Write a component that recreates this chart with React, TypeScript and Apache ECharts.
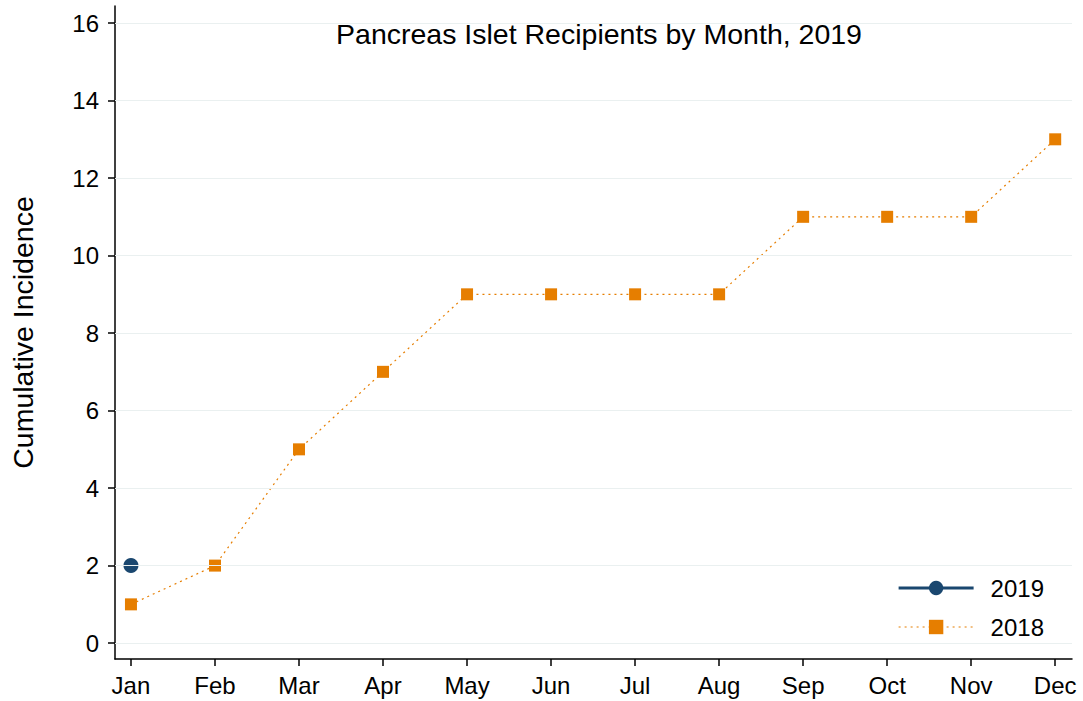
import React, { useEffect, useRef } from "react";
import * as echarts from "echarts";

const months = ["Jan", "Feb", "Mar", "Apr", "May", "Jun", "Jul", "Aug", "Sep", "Oct", "Nov", "Dec"];
const values2018 = [1, 2, 5, 7, 9, 9, 9, 9, 11, 11, 11, 13];
const values2019 = [2];
const yTicks = [0, 2, 4, 6, 8, 10, 12, 14, 16];
const xTicks = [0, 1, 2, 3, 4, 5, 6, 7, 8, 9, 10, 11];

const NAVY = "#1a476f";
const ORANGE = "#e67e00";
const FONT = "Liberation Sans, Arial, sans-serif";

export default function App() {
  const ref = useRef<HTMLDivElement>(null);
  useEffect(() => {
    const chart = echarts.init(ref.current!, null, { renderer: "svg" });
    chart.setOption({
      animation: false,
      backgroundColor: "#ffffff",
      title: {
        text: "Pancreas Islet Recipients by Month, 2019",
        left: 594,
        textAlign: "center",
        top: 14,
        textStyle: { fontFamily: FONT, fontSize: 28.5, fontWeight: "normal", color: "#000" },
      },
      grid: { left: 114, right: 11, top: 6, bottom: 42 },
      xAxis: {
        type: "value",
        min: -0.19,
        max: 11.2,
        axisLine: { show: true, onZero: false, lineStyle: { color: "#000", width: 1.5 } },
        axisTick: { show: true, length: 7, customValues: xTicks, lineStyle: { color: "#000", width: 1.5 } },
        axisLabel: {
          customValues: xTicks,
          formatter: (v: number) => months[Math.round(v)],
          fontFamily: FONT,
          fontSize: 24,
          color: "#000",
          margin: 14,
        },
        splitLine: { show: false },
      },
      yAxis: {
        type: "value",
        min: -0.41,
        max: 16.44,
        name: "Cumulative Incidence",
        nameLocation: "middle",
        nameGap: 78,
        nameTextStyle: { fontFamily: FONT, fontSize: 28.5, color: "#000" },
        axisLine: { show: true, onZero: false, lineStyle: { color: "#000", width: 1.5 } },
        axisTick: { show: true, length: 7, customValues: yTicks, lineStyle: { color: "#000", width: 1.5 } },
        axisLabel: {
          customValues: yTicks,
          fontFamily: FONT,
          fontSize: 24,
          color: "#000",
          margin: 16,
        },
        splitLine: { show: false },
      },
      legend: {
        right: 21,
        bottom: 54,
        orient: "vertical",
        itemWidth: 75,
        itemHeight: 18,
        itemGap: 15,
        backgroundColor: "#ffffff",
        padding: [8, 18, 8, 11],
        textStyle: { fontFamily: FONT, fontSize: 24, lineHeight: 24, color: "#000", padding: [0, 0, 0, 12] },
        data: [
          { name: "2019", lineStyle: { width: 3, color: NAVY }, itemStyle: { color: NAVY } },
          { name: "2018", lineStyle: { width: 1.2, color: ORANGE, type: [2, 4] }, itemStyle: { color: ORANGE } },
        ],
      },
      series: [
        {
          name: "grid",
          type: "line",
          data: [],
          silent: true,
          markLine: {
            silent: true,
            symbol: "none",
            label: { show: false },
            lineStyle: { color: "#eaf0f0", width: 1, type: "solid" },
            data: yTicks.map((v) => ({ yAxis: v })),
          },
          z: 0,
        },
        {
          name: "2018",
          type: "line",
          data: values2018.map((v, i) => [i, v]),
          symbol: "rect",
          symbolSize: 12,
          itemStyle: { color: ORANGE },
          lineStyle: { color: ORANGE, width: 1.2, type: [2, 4] },
          z: 3,
        },
        {
          name: "2019",
          type: "line",
          data: values2019.map((v, i) => [i, v]),
          symbol: "circle",
          symbolSize: 15,
          itemStyle: { color: NAVY },
          lineStyle: { color: NAVY, width: 3 },
          z: 4,
        },
      ],
    });
    return () => chart.dispose();
  }, []);
  return <div ref={ref} style={{ width: 1083, height: 701, position: "absolute", left: 0, top: 0 }} />;
}
